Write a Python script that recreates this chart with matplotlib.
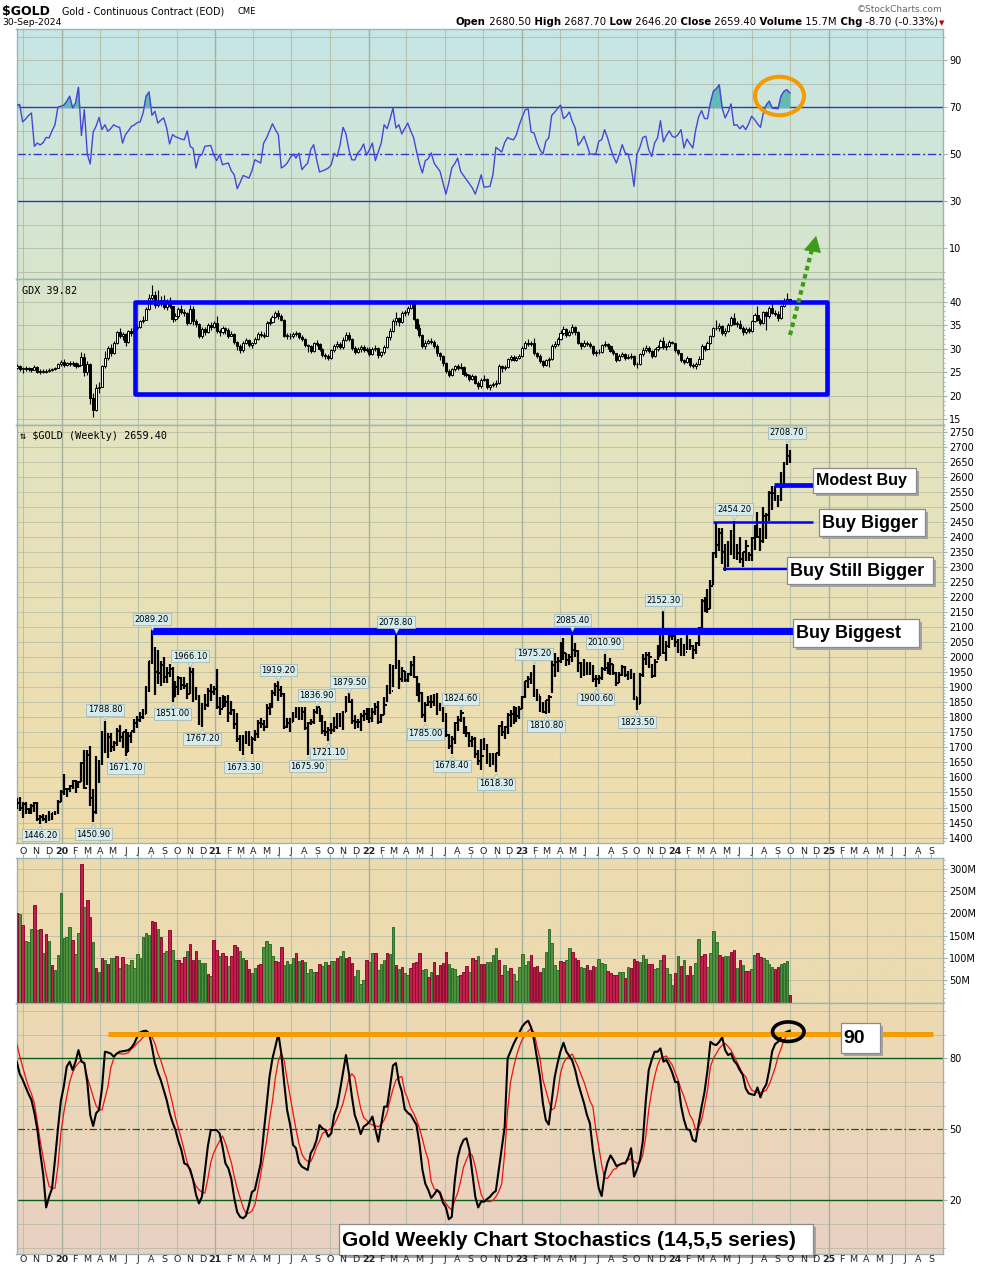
import numpy as np
import pandas as pd
import matplotlib
matplotlib.use("Agg")
import matplotlib.pyplot as plt
import matplotlib.dates as mdates
from matplotlib.patches import Rectangle, Ellipse, Polygon
from matplotlib.colors import LinearSegmentedColormap
from matplotlib.transforms import blended_transform_factory, offset_copy

# ------------------------------------------------------------------ data
FIRST_WEEK = "2019-09-16"
N_WEEKS = 264

GOLD_FIRST_OPEN = 1510.0
GOLD_CLOSE = [
    1515, 1497, 1513, 1494, 1494, 1505, 1514, 1462, 1468, 1463,
    1472, 1465, 1481, 1481, 1519, 1553, 1562, 1560, 1572, 1589,
    1573, 1586, 1649, 1566, 1674, 1530, 1484, 1654, 1645, 1752,
    1699, 1736, 1700, 1713, 1756, 1735, 1751, 1683, 1737, 1753,
    1781, 1790, 1801, 1810, 1897, 1986, 2028, 1949, 1947, 1975,
    1934, 1947, 1962, 1866, 1900, 1930, 1906, 1905, 1879, 1951,
    1886, 1872, 1781, 1840, 1840, 1888, 1883, 1895, 1835, 1829,
    1856, 1850, 1814, 1823, 1777, 1729, 1698, 1719, 1741, 1733,
    1729, 1744, 1780, 1777, 1768, 1831, 1838, 1881, 1905, 1892,
    1879, 1769, 1781, 1784, 1810, 1815, 1802, 1817, 1763, 1780,
    1784, 1819, 1833, 1792, 1754, 1751, 1759, 1757, 1768, 1796,
    1784, 1818, 1868, 1852, 1788, 1783, 1784, 1805, 1811, 1828,
    1797, 1817, 1835, 1786, 1807, 1842, 1899, 1889, 1966, 1985,
    1929, 1954, 1924, 1945, 1974, 1934, 1911, 1882, 1808, 1842,
    1851, 1850, 1871, 1840, 1830, 1801, 1742, 1703, 1727, 1781,
    1791, 1815, 1762, 1749, 1721, 1728, 1677, 1655, 1672, 1709,
    1650, 1656, 1648, 1681, 1771, 1751, 1768, 1809, 1810, 1800,
    1804, 1826, 1869, 1921, 1928, 1929, 1876, 1874, 1842, 1817,
    1856, 1867, 1973, 1983, 1986, 2011, 2015, 1990, 1999, 2025,
    2019, 1981, 1944, 1970, 1977, 1971, 1929, 1929, 1932, 1960,
    1964, 1960, 1976, 1946, 1915, 1940, 1966, 1942, 1945, 1945,
    1866, 1845, 1941, 1994, 2006, 1999, 1938, 1984, 2003, 2089,
    2014, 2037, 2069, 2071, 2049, 2051, 2029, 2018, 2054, 2038,
    2024, 2046, 2096, 2186, 2161, 2159, 2238, 2345, 2374, 2413,
    2349, 2310, 2375, 2417, 2335, 2348, 2325, 2349, 2369, 2339,
    2397, 2421, 2399, 2386, 2470, 2472, 2546, 2546, 2537, 2524,
    2611, 2647, 2668, 2659.4]
GOLD_HIGH = [
    1532, 1536, 1520, 1520, 1500, 1512, 1520, 1517, 1476, 1479,
    1475, 1489, 1481, 1487, 1524, 1558, 1611, 1564, 1576, 1593,
    1593, 1588, 1652, 1691, 1692, 1704, 1560, 1670, 1657, 1756,
    1788.8, 1747, 1747, 1721, 1766, 1775, 1751, 1761, 1750, 1752,
    1796, 1804, 1818, 1827, 1904, 1986, 2089.2, 2034, 2024, 1986,
    2001, 1966, 1977, 1967, 1921, 1937, 1933, 1933, 1915, 1966.1,
    1965, 1900, 1875, 1848, 1879, 1897, 1912, 1905, 1962, 1868,
    1875, 1871, 1875, 1855, 1827, 1815, 1741, 1740, 1755, 1756,
    1733, 1759, 1791, 1799, 1790, 1844, 1849, 1890, 1913, 1919.2,
    1904, 1880, 1797, 1797, 1818, 1834, 1834, 1833, 1834, 1786,
    1796, 1826, 1836.9, 1830, 1809, 1788, 1768, 1782, 1800, 1814,
    1814, 1820, 1870, 1879.5, 1860, 1808, 1795, 1814, 1823, 1831,
    1832, 1830, 1848, 1855, 1812, 1866, 1906, 1976, 1975, 2078.8,
    1989, 1966, 1954, 1948, 1988, 2003, 1936, 1913, 1884, 1850,
    1870, 1874, 1879, 1880, 1848, 1833, 1813, 1746, 1739, 1784,
    1804, 1824.6, 1800, 1771, 1752, 1739, 1733, 1690, 1727, 1732,
    1712, 1681, 1680, 1680, 1776, 1787, 1770, 1815, 1823, 1836,
    1833, 1836, 1871, 1922, 1938, 1950, 1975.2, 1894, 1870, 1852,
    1859, 1874, 1998, 2014, 2000, 2049, 2063, 2015, 2009, 2085.4,
    2048, 2025, 1985, 1995, 1985, 1985, 1975, 1940, 1942, 1966,
    2010.9, 1985, 1998, 1976, 1950, 1949, 1975, 1969, 1955, 1961,
    1947, 1867, 1946, 2009, 2018, 2016, 1976, 1995, 2040, 2095,
    2152.3, 2055, 2080, 2093, 2079, 2062, 2065, 2045, 2080, 2060,
    2040, 2050, 2100, 2195, 2200, 2225, 2256, 2350, 2448, 2431,
    2430, 2375, 2385, 2422, 2454.2, 2375, 2400, 2350, 2390, 2350,
    2400, 2440, 2483, 2430, 2500, 2480, 2551, 2570, 2570, 2540,
    2615, 2649, 2708.7, 2687.7]
GOLD_LOW = [
    1494, 1490, 1465, 1480, 1478, 1480, 1484, 1456, 1446.2, 1454,
    1450, 1456, 1460, 1475, 1478, 1517, 1543, 1536, 1551, 1562,
    1549, 1565, 1584, 1563, 1575, 1504, 1450.9, 1480, 1583, 1640,
    1681, 1666, 1683, 1688, 1706, 1718, 1699, 1671.7, 1683, 1715,
    1747, 1766, 1783, 1795, 1810, 1885, 1976, 1874, 1912, 1905,
    1915, 1914, 1934, 1851, 1866, 1875, 1890, 1894, 1860, 1877,
    1850, 1856, 1775, 1767.2, 1825, 1834, 1855, 1874, 1828, 1808,
    1832, 1834, 1786, 1807, 1760, 1717, 1687, 1673.3, 1712, 1705,
    1678, 1720, 1731, 1764, 1756, 1765, 1808, 1832, 1870, 1855,
    1867, 1761, 1763, 1750, 1785, 1797, 1790, 1790, 1759, 1675.9,
    1774, 1778, 1810, 1784, 1745, 1737, 1721.1, 1745, 1750, 1760,
    1769, 1758, 1817, 1846, 1778, 1762, 1765, 1753, 1788, 1790,
    1781, 1785, 1809, 1779, 1780, 1806, 1850, 1878, 1901, 1961,
    1895, 1918, 1917, 1916, 1936, 1930, 1872, 1850, 1797, 1785,
    1837, 1830, 1837, 1807, 1822, 1784, 1733, 1695, 1678.4, 1712,
    1756, 1783, 1746, 1733, 1702, 1700, 1664, 1641, 1624, 1690,
    1645, 1634, 1640, 1618.3, 1670, 1737, 1728, 1744, 1769, 1777,
    1784, 1795, 1826, 1865, 1896, 1911, 1866, 1855, 1819, 1815,
    1810.8, 1813, 1880, 1934, 1949, 1982, 1992, 1971, 1975, 1985,
    2000, 1952, 1932, 1937, 1940, 1940, 1916, 1900.6, 1911, 1925,
    1955, 1945, 1940, 1940, 1905, 1913, 1937, 1934, 1925, 1929,
    1858, 1823.5, 1845, 1935, 1975, 1965, 1932, 1935, 1990, 2005,
    2010, 1987, 2030, 2056, 2033, 2014, 2003, 2005, 2023, 2025,
    1995, 2010, 2036, 2094, 2150, 2147, 2160, 2240, 2330, 2354,
    2310, 2285, 2300, 2340, 2327, 2322, 2313, 2300, 2320, 2319,
    2319, 2357, 2395, 2353, 2380, 2393, 2454, 2490, 2520, 2500,
    2519, 2563, 2638, 2646.2]

GDX_FIRST_OPEN = 26.0
GDX_CLOSE = [
    26.3, 25.7, 25.9, 25.6, 25.8, 25.5, 26.2, 25.0, 25.3, 25.1,
    25.3, 25.5, 25.6, 25.9, 26.8, 27.2, 26.6, 26.9, 26.7, 27.0,
    26.4, 26.6, 28.3, 25.0, 26.8, 19.6, 17.0, 21.6, 21.9, 26.3,
    28.0, 30.2, 29.0, 31.2, 33.5, 32.6, 33.1, 31.5, 33.8, 33.4,
    34.5, 34.6, 35.8, 36.2, 38.5, 40.8, 41.5, 39.3, 40.0, 40.4,
    38.8, 40.2, 39.0, 36.3, 37.0, 38.5, 37.8, 37.6, 35.4, 38.4,
    35.8, 35.2, 32.7, 34.2, 33.5, 35.0, 34.6, 35.4, 33.7, 33.5,
    34.3, 34.0, 32.8, 33.2, 31.4, 30.6, 29.7, 31.3, 31.8, 30.8,
    31.2, 32.0, 33.1, 33.0, 32.8, 35.5, 35.7, 36.8, 37.6, 37.0,
    36.2, 32.8, 32.8, 32.6, 33.1, 33.4, 32.5, 32.1, 30.8, 30.5,
    29.6, 31.2, 31.0, 30.0, 28.6, 28.4, 28.0, 29.7, 30.5, 30.9,
    30.3, 31.9, 33.0, 32.0, 30.2, 29.4, 29.9, 30.4, 29.7, 30.0,
    28.9, 30.0, 30.2, 28.6, 29.2, 30.4, 32.5, 33.7, 35.9, 36.5,
    35.6, 37.6, 37.7, 38.6, 39.7, 36.4, 34.3, 33.0, 30.5, 31.3,
    31.6, 31.4, 30.6, 29.0, 28.5, 26.9, 25.2, 24.5, 25.6, 26.3,
    25.9, 26.2, 24.6, 24.4, 23.6, 24.3, 22.8, 22.0, 23.4, 23.6,
    21.8, 22.3, 22.4, 22.8, 26.4, 25.8, 26.2, 27.8, 28.2, 27.6,
    28.1, 28.4, 30.2, 31.3, 31.0, 31.3, 29.0, 28.5, 27.4, 26.6,
    27.5, 27.8, 30.6, 30.9, 32.1, 33.4, 34.1, 33.0, 33.5, 34.6,
    33.6, 31.2, 30.6, 31.3, 31.0, 30.6, 29.0, 29.3, 29.4, 30.7,
    30.9, 30.5, 29.6, 29.0, 27.6, 28.5, 28.8, 28.1, 28.3, 28.5,
    26.7, 26.8, 28.8, 29.8, 30.2, 29.6, 28.4, 29.9, 30.4, 31.7,
    30.3, 30.6, 31.4, 31.2, 29.8, 29.0, 27.6, 27.2, 28.0, 26.6,
    26.4, 26.8, 27.9, 30.5, 30.0, 31.2, 32.8, 34.3, 34.5, 34.9,
    33.4, 33.8, 35.0, 36.6, 35.3, 35.3, 34.5, 33.5, 34.2, 33.8,
    35.9, 37.1, 36.0, 35.5, 37.7, 36.9, 38.6, 37.6, 37.4, 36.5,
    39.0, 40.0, 40.5, 39.82]
GDX_HIGH = [
    26.8, 26.6, 26.2, 26.3, 26.1, 26.0, 26.5, 26.3, 25.6, 25.6,
    25.6, 25.8, 25.9, 26.1, 27.0, 27.7, 27.8, 27.1, 27.3, 27.4,
    27.2, 26.9, 29.2, 29.0, 27.4, 27.0, 20.5, 22.6, 23.0, 26.6,
    29.5, 30.6, 31.0, 31.6, 33.8, 34.4, 33.6, 33.4, 34.0, 34.3,
    34.8, 35.2, 36.2, 36.9, 38.9, 41.6, 43.6, 42.2, 42.5, 41.2,
    41.4, 40.6, 40.9, 39.1, 37.6, 38.9, 39.2, 38.4, 37.8, 39.2,
    39.0, 36.4, 35.4, 34.6, 34.7, 35.4, 35.6, 35.8, 37.0, 34.2,
    34.8, 34.7, 34.4, 33.7, 33.3, 31.7, 31.0, 31.6, 32.3, 32.1,
    31.5, 32.4, 33.5, 33.8, 33.6, 35.8, 36.5, 37.2, 38.0, 38.2,
    37.3, 36.3, 33.3, 33.3, 33.5, 33.8, 33.6, 32.9, 32.3, 31.0,
    30.7, 31.5, 31.8, 31.2, 30.2, 29.0, 28.8, 30.0, 31.0, 31.6,
    31.4, 32.4, 33.6, 33.5, 32.3, 30.5, 30.4, 30.8, 30.7, 30.3,
    30.4, 30.3, 30.7, 30.4, 29.6, 30.8, 32.8, 34.4, 36.4, 37.8,
    36.8, 38.0, 38.3, 39.0, 40.3, 40.0, 36.6, 35.2, 33.2, 31.9,
    32.0, 32.2, 31.8, 30.9, 29.4, 28.6, 27.1, 25.6, 25.9, 26.6,
    26.8, 26.9, 26.3, 25.0, 24.6, 24.6, 24.4, 23.2, 23.8, 24.4,
    23.7, 22.6, 23.0, 23.3, 26.7, 26.6, 26.6, 28.1, 28.6, 28.7,
    28.5, 28.8, 30.6, 31.6, 32.0, 31.7, 32.2, 29.4, 28.8, 27.6,
    27.8, 28.2, 31.0, 31.6, 32.5, 33.9, 34.8, 34.3, 33.9, 35.2,
    34.9, 33.7, 31.4, 31.8, 31.7, 31.5, 30.8, 29.7, 29.9, 31.0,
    31.6, 31.3, 30.8, 29.9, 29.1, 28.8, 29.4, 29.0, 28.8, 29.0,
    28.6, 27.2, 29.0, 30.3, 30.8, 30.5, 29.8, 30.2, 30.8, 32.1,
    32.5, 31.3, 31.8, 31.7, 31.3, 30.0, 29.1, 27.9, 28.4, 28.1,
    26.9, 27.1, 28.4, 30.9, 30.8, 31.6, 33.0, 34.6, 36.0, 35.4,
    35.0, 34.4, 35.4, 37.0, 37.5, 35.9, 36.0, 34.8, 34.6, 34.6,
    36.2, 37.6, 39.0, 36.6, 38.1, 37.9, 39.0, 39.6, 38.2, 37.9,
    39.3, 40.7, 41.9, 40.5]
GDX_LOW = [
    25.6, 25.3, 24.9, 25.3, 25.2, 25.1, 25.4, 24.8, 24.6, 24.8,
    24.9, 25.0, 25.2, 25.4, 25.8, 26.4, 26.2, 26.3, 26.4, 26.3,
    26.0, 26.1, 26.5, 24.2, 24.4, 18.2, 15.5, 16.8, 20.6, 21.8,
    26.0, 27.5, 28.4, 28.8, 31.0, 32.2, 31.8, 30.6, 31.2, 32.8,
    33.2, 34.0, 34.4, 35.4, 36.0, 38.3, 40.4, 38.7, 38.9, 39.0,
    38.4, 38.2, 38.6, 35.6, 35.9, 36.6, 37.3, 37.0, 35.0, 35.2,
    35.0, 34.6, 32.3, 32.2, 33.0, 33.3, 34.0, 34.3, 33.4, 32.8,
    33.2, 33.2, 32.3, 32.6, 31.0, 29.8, 29.0, 29.2, 31.0, 30.4,
    30.2, 31.0, 31.8, 32.5, 32.2, 32.6, 35.0, 35.4, 36.5, 36.4,
    35.8, 32.4, 32.0, 32.0, 32.3, 32.8, 32.1, 31.6, 30.4, 29.4,
    29.0, 29.4, 30.6, 29.6, 28.2, 27.9, 27.5, 27.8, 29.4, 30.2,
    29.9, 30.0, 31.6, 31.6, 29.8, 28.9, 29.1, 29.3, 29.3, 29.4,
    28.5, 28.6, 29.6, 28.0, 28.2, 28.9, 30.2, 31.8, 33.5, 35.0,
    34.9, 35.4, 37.0, 37.2, 38.4, 36.2, 34.0, 32.5, 30.1, 30.0,
    30.9, 31.0, 30.1, 28.5, 27.6, 26.4, 24.8, 24.0, 24.2, 25.3,
    25.4, 25.6, 24.3, 24.0, 23.1, 23.3, 22.5, 21.5, 21.6, 23.2,
    21.4, 21.2, 21.8, 21.9, 22.6, 25.1, 25.5, 26.0, 27.4, 27.3,
    27.3, 27.8, 28.2, 29.9, 30.6, 30.6, 28.7, 28.0, 27.0, 26.1,
    26.3, 26.2, 27.6, 30.2, 30.6, 31.8, 33.0, 32.5, 32.6, 33.2,
    33.0, 30.9, 30.0, 30.3, 30.5, 30.2, 28.6, 28.5, 28.8, 29.1,
    30.4, 30.0, 29.2, 28.6, 27.2, 27.4, 28.3, 27.7, 27.8, 27.9,
    26.4, 25.9, 26.6, 28.5, 29.4, 29.1, 28.0, 28.3, 29.5, 30.2,
    30.0, 29.8, 30.4, 30.9, 29.4, 28.6, 27.2, 26.8, 27.0, 26.2,
    25.8, 25.6, 26.6, 27.8, 29.6, 29.8, 31.0, 32.5, 34.0, 33.8,
    32.9, 32.6, 33.5, 34.8, 35.0, 34.7, 34.1, 33.0, 33.1, 33.3,
    33.6, 35.6, 35.8, 35.0, 35.3, 34.0, 36.6, 37.3, 36.9, 35.9,
    36.3, 38.8, 39.8, 39.5]

RSI = [
    70.9, 71.2, 63.8, 65, 66.5, 67.6, 53.4, 54.8, 54, 55,
    57.2, 57, 60, 62.6, 70, 70.5, 70.9, 72.5, 74.7, 69.7,
    71.8, 78.5, 58, 69, 50.1, 45.9, 59.5, 62, 65.7, 60.5,
    62.6, 59.8, 61, 62.6, 61.8, 61.5, 54.8, 58.4, 60, 61.9,
    62.5, 63.5, 63.8, 67.6, 74.7, 76.5, 66.6, 68.3, 63.3, 64.5,
    65.5, 61.2, 54.4, 58.4, 57.5, 57, 56.5, 56.2, 60, 53.4,
    52.5, 44.2, 49.1, 49.9, 53.4, 53.6, 53.8, 49.9, 47.3, 49.9,
    45.6, 46, 46.3, 43, 41.3, 35.4, 38, 41, 40.5, 39.9,
    43, 47.7, 47, 46.3, 54.8, 57, 60, 63, 60.5, 58.4,
    44.2, 45, 46.3, 48.5, 50.1, 48.4, 50.5, 43.5, 45, 46.3,
    52, 54.1, 48, 42.5, 43, 43.5, 44.2, 45.6, 50.5, 49.1,
    54.1, 61.5, 58.7, 52, 47.7, 47.6, 50.5, 52, 54.4, 49.6,
    52, 54.8, 47.3, 51, 54.8, 62.6, 60.9, 65, 69.7, 61.2,
    62.6, 58.7, 61, 63.3, 60, 57.2, 51.3, 46, 42.1, 47.3,
    48.2, 50.6, 46.3, 44.5, 42.8, 38, 33.1, 38, 44.2, 46,
    48.4, 42.8, 41, 39.2, 37.5, 35.7, 33.1, 37, 41.3, 36,
    36.2, 36.4, 41.3, 53, 52, 51, 55, 57.2, 56.5, 56.2,
    58.4, 62.6, 66, 69, 69.3, 59.5, 59.1, 55, 52, 50.1,
    55.6, 57, 66.6, 67.9, 69.5, 70.9, 65.2, 66.2, 68, 64,
    61.2, 53.8, 55.5, 57.7, 54, 50.1, 50.1, 50.1, 55.6, 56.2,
    60.5, 57, 52.7, 49, 46.3, 50, 54.1, 50.6, 50.1, 45,
    36.4, 50.1, 53, 57.2, 57.7, 52, 49.1, 54.8, 57, 64.3,
    55.3, 58, 60, 57.7, 57.2, 58.5, 60.5, 52.7, 56.5, 54.5,
    52.7, 60.5, 66, 68.6, 65.2, 65.2, 72, 76.8, 77.9, 79.6,
    69.7, 65.5, 68, 71.4, 62.3, 62.6, 60.9, 62.3, 60.5, 63,
    66.2, 64.8, 63, 61.5, 67.6, 71, 72.6, 69.7, 69.5, 69.4,
    74.7, 76.8, 77.5, 76.1]

VOLUME_M = [
    202, 198, 175, 139, 135, 166, 220, 162, 166, 110,
    153, 137, 83, 72, 106, 245, 144, 148, 169, 141,
    108, 155, 312, 214, 230, 191, 135, 76, 69, 99,
    96, 85, 99, 99, 103, 76, 101, 85, 83, 96,
    76, 108, 99, 148, 157, 151, 182, 180, 166, 146,
    110, 115, 162, 117, 96, 94, 88, 101, 115, 130,
    96, 115, 94, 88, 88, 63, 58, 141, 117, 103,
    110, 105, 81, 105, 128, 124, 115, 99, 96, 74,
    65, 78, 83, 85, 124, 137, 130, 105, 92, 90,
    124, 83, 92, 85, 99, 110, 92, 96, 90, 65,
    74, 69, 67, 85, 81, 90, 83, 92, 92, 99,
    103, 115, 99, 101, 88, 58, 72, 42, 51, 96,
    90, 110, 110, 72, 85, 96, 110, 108, 169, 83,
    74, 79, 65, 61, 76, 88, 90, 110, 72, 74,
    56, 69, 90, 61, 83, 88, 112, 85, 76, 74,
    58, 61, 67, 81, 69, 99, 96, 104, 86, 86,
    90, 90, 106, 122, 96, 62, 84, 70, 77, 64,
    48, 79, 108, 84, 93, 107, 80, 82, 69, 77,
    113, 166, 133, 84, 73, 93, 90, 95, 122, 113,
    99, 95, 79, 77, 84, 72, 81, 79, 97, 88,
    86, 70, 66, 61, 61, 68, 68, 54, 79, 77,
    97, 93, 90, 106, 97, 86, 86, 74, 77, 95,
    106, 77, 63, 38, 65, 104, 81, 95, 61, 81,
    61, 88, 142, 104, 108, 79, 110, 160, 135, 106,
    101, 104, 104, 112, 117, 77, 95, 84, 70, 70,
    74, 106, 110, 101, 99, 95, 86, 79, 74, 79,
    86, 88, 93, 15.7]
VOLUME_DOWN = [
    1, 0, 1, 0, 0, 0, 1, 0, 1, 0,
    1, 0, 1, 0, 0, 0, 0, 0, 0, 1,
    0, 0, 1, 0, 1, 1, 0, 1, 0, 1,
    0, 1, 0, 0, 1, 0, 1, 0, 0, 0,
    0, 0, 0, 0, 0, 0, 1, 1, 0, 1,
    0, 0, 1, 0, 0, 1, 1, 1, 0, 1,
    1, 1, 0, 0, 0, 1, 0, 1, 1, 0,
    1, 1, 0, 1, 1, 1, 0, 0, 1, 1,
    0, 0, 1, 1, 0, 0, 0, 0, 1, 1,
    1, 0, 0, 0, 0, 1, 0, 1, 0, 0,
    0, 0, 1, 1, 0, 0, 1, 0, 0, 1,
    0, 0, 1, 1, 1, 0, 0, 0, 0, 1,
    0, 0, 1, 0, 0, 0, 1, 0, 0, 1,
    0, 1, 0, 0, 1, 1, 1, 1, 0, 0,
    1, 0, 1, 1, 1, 1, 1, 0, 0, 0,
    0, 1, 1, 1, 0, 1, 1, 0, 1, 1,
    0, 0, 0, 0, 1, 1, 0, 0, 1, 0,
    0, 0, 0, 0, 0, 1, 1, 1, 1, 0,
    0, 0, 0, 0, 0, 1, 1, 0, 0, 1,
    1, 1, 0, 0, 1, 1, 1, 0, 0, 0,
    0, 1, 1, 1, 1, 0, 0, 1, 0, 1,
    1, 1, 0, 0, 0, 1, 1, 0, 0, 0,
    1, 0, 0, 0, 1, 0, 1, 0, 1, 1,
    0, 0, 0, 1, 1, 0, 0, 0, 0, 1,
    1, 0, 0, 1, 1, 0, 1, 0, 1, 1,
    0, 0, 1, 1, 0, 0, 0, 0, 1, 1,
    0, 0, 0, 1]

STO_K = [
    78.6, 73.5, 71, 68, 65, 62.4, 57, 50, 40, 31,
    17, 21.5, 25, 37, 50, 62, 68, 76.5, 78.6, 75.1,
    78.6, 83.5, 78.6, 78, 70, 56, 51.4, 56.8, 58.2, 67.3,
    82.8, 82.5, 82, 80.7, 82, 82.8, 83, 83.2, 83.5, 84.5,
    86.3, 89.2, 91, 91.5, 91.7, 90.6, 84.9, 78, 74, 70.8,
    66.6, 62.4, 57, 53, 49.7, 45, 41.3, 35.6, 35, 33,
    28.6, 22.3, 18.7, 21.5, 32, 42.7, 49.7, 49.7, 49.7, 48.3,
    42.7, 35.6, 33.5, 29, 21, 15, 13, 12.4, 13.5, 18,
    23.5, 24.4, 30, 35.6, 48.3, 60, 72.3, 80, 85, 90.5,
    82.1, 69.4, 58, 52, 43.4, 42, 36, 34.2, 33.5, 32.8,
    39.9, 42, 45.5, 51.8, 50.4, 49.7, 46.9, 48.3, 56.1, 59.6,
    66.6, 74, 81.4, 73.7, 64, 56, 52.5, 48, 51.1, 52,
    53.2, 55.4, 50, 44.8, 52, 59.6, 59.6, 68, 77, 78,
    70, 66, 58.5, 57, 56.1, 54, 51.8, 44, 33, 27,
    24.4, 21, 22.5, 24.4, 23, 19, 17, 12, 13, 28,
    38, 42.7, 45.5, 46.2, 41.3, 31.4, 21.5, 17, 19.5, 19.4,
    20.5, 21.5, 23, 24, 33, 42, 51, 80, 83, 86,
    88.5, 91, 93.5, 95, 95.9, 93, 87.7, 80, 72.3, 61,
    53.9, 52, 62, 72, 78, 83, 86.6, 82.8, 81, 79,
    75, 69.4, 65.2, 61, 56, 52.5, 41.3, 32.8, 25.1, 21.8,
    31, 36, 39, 37, 34.5, 35, 35.6, 35.6, 38, 42,
    30, 33, 37, 45, 62, 75, 79.3, 82.8, 82.8, 84.2,
    78.6, 79.3, 77, 74, 70, 70, 60, 54, 50, 49.7,
    45.5, 44.8, 52.5, 59.6, 65.9, 75, 87, 86, 85.6, 87,
    88.9, 83.5, 81.4, 82.1, 79, 77.5, 75, 73, 67.3, 65.2,
    64.8, 64.5, 67.7, 63.5, 66.9, 69, 75, 83, 86, 87,
    89.2, 90.6, 91.2, 91.7]
STO_D = [
    86.3, 81, 76.5, 72, 68, 65, 61, 53, 45, 38,
    31, 26, 25, 25.1, 34.2, 48.3, 57, 63.8, 70, 74,
    76.5, 78, 79.3, 77.9, 72, 68, 63.8, 60, 58.2, 58.2,
    63, 68, 76, 80, 82.1, 82, 81.8, 82, 82.4, 84,
    85, 86.5, 87.5, 89, 89.9, 90.6, 89, 86.3, 82, 79.3,
    75, 71.5, 66, 61, 55, 50.4, 46, 41, 36, 32,
    28.6, 26, 24.4, 23.5, 23, 29, 36, 40, 42.7, 45,
    47.2, 44.1, 40, 36, 30, 25, 21, 17, 14.5, 14.5,
    15.5, 18, 24, 31, 38, 45, 54, 62, 72, 79,
    82.1, 79, 71, 64, 57, 50, 44, 39.5, 37.5, 36.5,
    36.3, 39, 42.7, 45, 48.3, 49, 49.7, 50.5, 52, 54.5,
    57.5, 61, 66, 71.5, 73.5, 72, 65, 59, 55, 53.9,
    52.5, 51.8, 51.5, 51.1, 52, 53.9, 57, 62.4, 67, 70.8,
    72, 72.3, 66, 63, 59, 56.8, 54, 50.4, 46, 41,
    37.1, 28, 25, 24, 23.7, 20.5, 18.7, 17, 15.9, 20,
    23, 28, 34, 37.1, 40, 39, 34.2, 28, 22.5, 20,
    19.5, 19.4, 20, 21.5, 23.7, 27, 40, 58, 70, 76,
    81, 85, 88, 89.9, 91.5, 92.7, 91, 85, 80, 71,
    66.6, 62, 58.2, 59, 65, 73.7, 78, 80, 81, 81.8,
    79, 76.5, 73, 70, 66, 62, 59.6, 50, 42.7, 35,
    29.3, 29.3, 31, 33, 33.5, 35, 35.6, 36, 37, 37.7,
    36.5, 35.6, 36, 39.1, 47, 58.2, 66, 72.3, 77, 80,
    80.5, 81, 79, 77.2, 74, 70.8, 67, 63.8, 60, 56,
    53.9, 49.7, 51, 53.9, 60, 66.6, 76.5, 80, 82, 84.2,
    85.5, 86.3, 85, 83.5, 81, 78.6, 76, 73.5, 72.3, 69,
    66.6, 66, 65.5, 65.5, 66, 66.6, 69, 72.3, 76, 80.7,
    84, 87.7, 89.5, 91.3]

HIGH_LABEL_WEEKS = [30, 46, 59, 89, 102, 113, 129, 151, 176, 189, 200, 220, 244, 262]
LOW_LABEL_WEEKS = [8, 26, 37, 53, 63, 77, 99, 106, 139, 148, 163, 180, 197, 211]

BUY_NAMES = ["Modest Buy", "Buy Bigger", "Buy Still Bigger", "Buy Biggest"]
BUY_LEVELS = [2573, 2449, 2294, 2088]
BUY_START = ["2024-08-23", "2024-03-31", "2024-04-23", "2020-07-31"]
BUY_END = ["2024-11-24", "2024-11-24", "2024-09-24", "2024-10-08"]
GDX_BOX_DATES = ["2020-06-23", "2024-12-27"]
GDX_BOX_LEVELS = [20.3, 40.0]
STO_LEVEL = 90.5
STO_LEVEL_DATES = ["2020-04-21", "2025-09-07"]

HEADER_QUOTE = [("Open", "2680.50"), ("High", "2687.70"), ("Low", "2646.20"),
                ("Close", "2659.40"), ("Volume", "15.7M"), ("Chg", "-8.70 (-0.33%)")]

# ------------------------------------------------------------------ figure
W, H = 990, 1270
fig = plt.figure(figsize=(W / 100, H / 100), dpi=100)
fig.patch.set_facecolor("white")

XL, XR = 16.5, 943.0
X0 = mdates.date2num(pd.Timestamp("2019-09-15 10:00"))
X1 = mdates.date2num(pd.Timestamp("2025-09-29 20:00"))

SPINE = "#9ab4b8"
GRID = "#b9c2ad"
GRID_Y = "#a9b29e"
SANS = ["DejaVu Sans"]
BOLD = ["Liberation Sans", "DejaVu Sans"]
LABEL_FC = "#d6ecec"
LABEL_EC = "#a2baba"


def panel(top, bottom, c_top, c_bottom):
    ax = fig.add_axes([XL / W, 1 - bottom / H, (XR - XL) / W, (bottom - top) / H])
    grad = np.linspace(0, 1, 256).reshape(-1, 1)
    cmap = LinearSegmentedColormap.from_list("bg", [c_top, c_bottom])
    ax.imshow(grad, extent=[0, 1, 0, 1], transform=ax.transAxes, aspect="auto",
              cmap=cmap, zorder=-10, origin="upper", interpolation="bilinear")
    for s in ax.spines.values():
        s.set_color(SPINE)
        s.set_linewidth(1.0)
    ax.yaxis.tick_right()
    ax.tick_params(axis="y", which="both", direction="out", colors=SPINE,
                   labelcolor="black", labelsize=7, pad=1.5)
    ax.tick_params(axis="y", which="major", length=3)
    ax.tick_params(axis="y", which="minor", length=1.5)
    ax.tick_params(axis="x", which="both", bottom=False, labelbottom=False)
    return ax


weeks = pd.date_range(FIRST_WEEK, periods=N_WEEKS, freq="7D")
x = mdates.date2num(weeks)

quarters = pd.date_range("2019-10-01", "2025-09-30", freq="QS")
months = pd.date_range("2019-10-01", "2025-09-30", freq="MS")


def vgrid(ax):
    for q in quarters:
        year_line = q.month == 1
        ax.axvline(mdates.date2num(q), color=("#a7b09c" if year_line else GRID),
                   lw=(1.0 if year_line else 0.8), zorder=-5)


def finish(ax, ylo, yhi):
    ax.set_xlim(X0, X1)
    ax.set_ylim(ylo, yhi)


# ---------------- RSI panel
ax_r = panel(29, 279, "#c6e6e6", "#d8e5cb")
vgrid(ax_r)
for v in range(0, 101, 10):
    if v not in (30, 50, 70):
        ax_r.axhline(v, color=GRID_Y, lw=0.7, alpha=0.7, zorder=-5)
rsi = np.array(RSI, float)
ax_r.axhline(70, color="#3535b0", lw=1.0, zorder=2)
ax_r.axhline(30, color="#3535b0", lw=1.0, zorder=2)
ax_r.axhline(50, color="#3535d0", lw=1.0, ls=(0, (6, 2, 1.5, 2)), zorder=2)
ax_r.fill_between(x, 70, rsi, where=rsi > 70, interpolate=True, color="#62bab2", zorder=3)
ax_r.plot(x, rsi, color="#4646d8", lw=1.0, zorder=4)
ax_r.set_yticks([10, 30, 50, 70, 90])
ax_r.set_yticks(range(0, 101, 10), minor=True)
finish(ax_r, -3, 103.3)

# ---------------- GDX panel
ax_d = panel(279, 425, "#d8e5cb", "#e3e4c2")
vgrid(ax_d)
for v in range(15, 45, 5):
    ax_d.axhline(v, color=GRID_Y, lw=0.7, alpha=0.7, zorder=-5)
dC = np.array(GDX_CLOSE, float)
dO = np.r_[GDX_FIRST_OPEN, dC[:-1]]
dH = np.array(GDX_HIGH, float)
dL = np.array(GDX_LOW, float)
ax_d.vlines(x, dL, dH, color="black", lw=0.8, zorder=3)
up = dC >= dO
body = np.where(np.abs(dC - dO) < 0.08, 0.08, dC - dO)
ax_d.bar(x[up], body[up], bottom=dO[up], width=5.0, facecolor="white",
         edgecolor="black", lw=0.7, zorder=4)
ax_d.bar(x[~up], body[~up], bottom=dO[~up], width=5.0, facecolor="black",
         edgecolor="black", lw=0.7, zorder=4)
bx0, bx1 = [mdates.date2num(pd.Timestamp(d)) for d in GDX_BOX_DATES]
ax_d.add_patch(Rectangle((bx0, GDX_BOX_LEVELS[0]), bx1 - bx0,
                         GDX_BOX_LEVELS[1] - GDX_BOX_LEVELS[0], fill=False,
                         ec="#0000ff", lw=3.3, joinstyle="round", zorder=6))
ax_d.set_yticks(range(15, 45, 5))
ax_d.set_yticks(np.arange(14, 45, 1), minor=True)
ax_d.text(0.006, 0.955, "GDX 39.82", transform=ax_d.transAxes, fontsize=7.3,
          family=["DejaVu Sans Mono"], va="top", ha="left")
finish(ax_d, 13.8, 44.8)

# ---------------- Gold panel
ax_g = panel(425, 843, "#e3e4c0", "#f0dcab")
vgrid(ax_g)
for v in range(1400, 2751, 50):
    ax_g.axhline(v, color=GRID_Y, lw=0.7, alpha=0.6, zorder=-5)
gC = np.array(GOLD_CLOSE, float)
gO = np.r_[GOLD_FIRST_OPEN, gC[:-1]]
gH = np.array(GOLD_HIGH, float)
gL = np.array(GOLD_LOW, float)
ax_g.vlines(x, gL, gH, color="black", lw=1.6, zorder=4)
ax_g.hlines(gO, x - 3.2, x, color="black", lw=1.4, zorder=4)
ax_g.hlines(gC, x, x + 3.2, color="black", lw=1.4, zorder=4)
buy_lw = [3.4, 1.8, 1.7, 5.0]
for lvl, s, e, lw in zip(BUY_LEVELS, BUY_START, BUY_END, buy_lw):
    ax_g.plot([mdates.date2num(pd.Timestamp(s)), mdates.date2num(pd.Timestamp(e))],
              [lvl, lvl], color="#0000ff", lw=lw, solid_capstyle="butt", zorder=5)
lab_box = dict(boxstyle="square,pad=0.18", fc=LABEL_FC, ec=LABEL_EC, lw=0.6)
tr_up = offset_copy(ax_g.transData, fig=fig, x=0, y=2.6, units="points")
tr_dn = offset_copy(ax_g.transData, fig=fig, x=0, y=-2.8, units="points")
for i in HIGH_LABEL_WEEKS:
    ax_g.plot(x[i], gH[i], marker="v", ms=4.2, mfc=LABEL_FC, mec=LABEL_EC, mew=0.5,
              transform=tr_up, zorder=6.5, clip_on=False)
    ax_g.annotate(f"{gH[i]:.2f}", (x[i], gH[i]), xytext=(0, 8), textcoords="offset points",
                  ha="center", va="center", fontsize=6, family=SANS, bbox=lab_box, zorder=7)
for i in LOW_LABEL_WEEKS:
    ax_g.plot(x[i], gL[i], marker="^", ms=4.2, mfc=LABEL_FC, mec=LABEL_EC, mew=0.5,
              transform=tr_dn, zorder=6.5, clip_on=False)
    ax_g.annotate(f"{gL[i]:.2f}", (x[i], gL[i]), xytext=(0, -8.5), textcoords="offset points",
                  ha="center", va="center", fontsize=6, family=SANS, bbox=lab_box, zorder=7)
ax_g.set_yticks(range(1400, 2751, 50))
ax_g.set_yticks(range(1390, 2771, 10), minor=True)
ax_g.text(0.004, 0.985, "\u21c5 $GOLD (Weekly) 2659.40", transform=ax_g.transAxes,
          fontsize=7.3, family=["DejaVu Sans Mono", "DejaVu Sans"], va="top", ha="left")
finish(ax_g, 1382, 2772)

# ---------------- Volume panel
ax_v = panel(857.5, 1003, "#eedcb0", "#ecdab0")
vgrid(ax_v)
for v in range(50, 301, 50):
    ax_v.axhline(v, color=GRID_Y, lw=0.7, alpha=0.6, zorder=-5)
vol = np.array(VOLUME_M, float)
down = np.array(VOLUME_DOWN, bool)
ax_v.bar(x[~down], vol[~down], width=6.0, facecolor="#4e903e", edgecolor="#2f6f2a",
         lw=0.7, zorder=3)
ax_v.bar(x[down], vol[down], width=6.0, facecolor="#c41f4c", edgecolor="#8e0d32",
         lw=0.7, zorder=3)
ax_v.set_yticks(range(50, 301, 50))
ax_v.set_yticklabels([f"{v}M" for v in range(50, 301, 50)])
ax_v.set_yticks(range(0, 330, 10), minor=True)
ax_v.tick_params(axis="x", which="both", top=True, direction="out", length=3, colors=SPINE)
ax_v.set_xticks(mdates.date2num(months))
ax_v.tick_params(axis="x", labeltop=False, labelbottom=False, bottom=False)
finish(ax_v, -1.8, 326)

# ---------------- Stochastics panel
ax_s = panel(1003, 1254, "#eddab2", "#e8d1c2")
vgrid(ax_s)
for v in range(0, 101, 10):
    if v not in (20, 50, 80):
        ax_s.axhline(v, color=GRID_Y, lw=0.7, alpha=0.6, zorder=-5)
ax_s.axhline(80, color="#0b5e1a", lw=1.0, zorder=2)
ax_s.axhline(20, color="#0b5e1a", lw=1.0, zorder=2)
ax_s.axhline(50, color="#0b5e1a", lw=0.9, ls=(0, (6, 2, 1.5, 2)), zorder=2)
ax_s.plot(x, STO_D, color="#f01010", lw=0.9, zorder=4)
ax_s.plot(x, STO_K, color="black", lw=1.5, zorder=5)
sx0, sx1 = [mdates.date2num(pd.Timestamp(d)) for d in STO_LEVEL_DATES]
ax_s.plot([sx0, sx1], [STO_LEVEL, STO_LEVEL], color="#f59c00", lw=3.6,
          solid_capstyle="butt", zorder=6)
ax_s.set_yticks([20, 50, 80])
ax_s.set_yticks(range(0, 101, 10), minor=True)
finish(ax_s, -2.7, 103.4)

# ---------------- overlay (annotations in pixel space)
ov = fig.add_axes([0, 0, 1, 1], zorder=10)
ov.set_xlim(0, W)
ov.set_ylim(H, 0)
ov.axis("off")
ov.patch.set_alpha(0)

# month labels
for ax_ref, ypix in ((ax_g, 851), (ax_s, 1260)):
    tr = blended_transform_factory(ax_ref.transData, ov.transData)
    for m in months:
        if m.month == 1:
            txt, wt = f"{m.year % 100:02d}", "bold"
        else:
            txt, wt = "JFMAMJJASOND"[m.month - 1], "normal"
        ov.text(mdates.date2num(m), ypix, txt, transform=tr, ha="center", va="center",
                fontsize=6.8, fontweight=wt, family=SANS, color="#222222")

# header
ov.text(2, 15, "$GOLD", fontsize=9, fontweight="bold", family=SANS, va="baseline")
ov.text(62, 14, "Gold - Continuous Contract (EOD)", fontsize=6.9, family=SANS, va="baseline")
ov.text(238, 14, "CME", fontsize=6, family=SANS, va="baseline")
ov.text(2, 25, "30-Sep-2024", fontsize=6.7, family=SANS, va="baseline")
ov.text(943, 12, "\u00a9StockCharts.com", fontsize=6.5, family=SANS, va="baseline",
        ha="right", color="#666666")
HFS = 7.25
first_txt = ov.text(458, 27, HEADER_QUOTE[0][0], fontsize=HFS, fontweight="bold",
                    family=SANS, va="bottom", ha="left")
prev = first_txt
for k, (lab, val) in enumerate(HEADER_QUOTE):
    if k > 0:
        prev = ov.annotate(" " + lab, xy=(1, 0), xycoords=prev, va="bottom", ha="left",
                           fontsize=HFS, fontweight="bold", family=SANS)
    prev = ov.annotate(" " + val, xy=(1, 0), xycoords=prev, va="bottom", ha="left",
                       fontsize=HFS, family=SANS)
tri = ov.annotate("\u25bc", xy=(1, 0.12), xycoords=prev, va="bottom", ha="left",
                  fontsize=5, color="#c00000", family=SANS)
# right-align the quote line to the plot edge
fig.canvas.draw()
right_edge = tri.get_window_extent().x1
first_txt.set_x(458 + (944 - right_edge))

# orange ellipse on RSI, black ellipse on stochastics
ov.add_patch(Ellipse((779.5, 96), 49, 38.5, fill=False, ec="#f59a00", lw=2.9))
ov.add_patch(Ellipse((788.3, 1031.7), 31.5, 19.5, fill=False, ec="black", lw=2.6))

# green dotted arrow
ov.plot([790, 811.5], [335, 251], color="#3a9c18", lw=3.0, ls=(0, (1.1, 0.9)),
        solid_capstyle="butt", dash_capstyle="butt")
ov.add_patch(Polygon([(816, 236.5), (804.5, 250), (820.5, 252.5)], closed=True,
                     fc="#3a9c18", ec="#3a9c18", lw=0.5))


def label_box(x0, y0, w, h, text, size, pad=3.5):
    ov.add_patch(Rectangle((x0 + 3, y0 + 3), w, h, fc="#a4a4a4", ec="none"))
    ov.add_patch(Rectangle((x0, y0), w, h, fc="white", ec="#8a8a8a", lw=0.9))
    ov.text(x0 + pad, y0 + h / 2 + 0.5, text, ha="left", va="center", fontsize=size,
            fontweight="bold", family=BOLD, color="black")


label_box(813, 468, 103, 25, BUY_NAMES[0], 11.5)
label_box(819, 509, 106, 27, BUY_NAMES[1], 13)
label_box(787, 557, 146, 27, BUY_NAMES[2], 13)
label_box(793, 619, 126, 28, BUY_NAMES[3], 13)
label_box(841, 1023, 39, 30, "90", 14, pad=2.5)
label_box(339, 1224, 474, 31, "Gold Weekly Chart Stochastics (14,5,5 series)", 15, pad=2.5)

fig.savefig("out.png", dpi=100)
